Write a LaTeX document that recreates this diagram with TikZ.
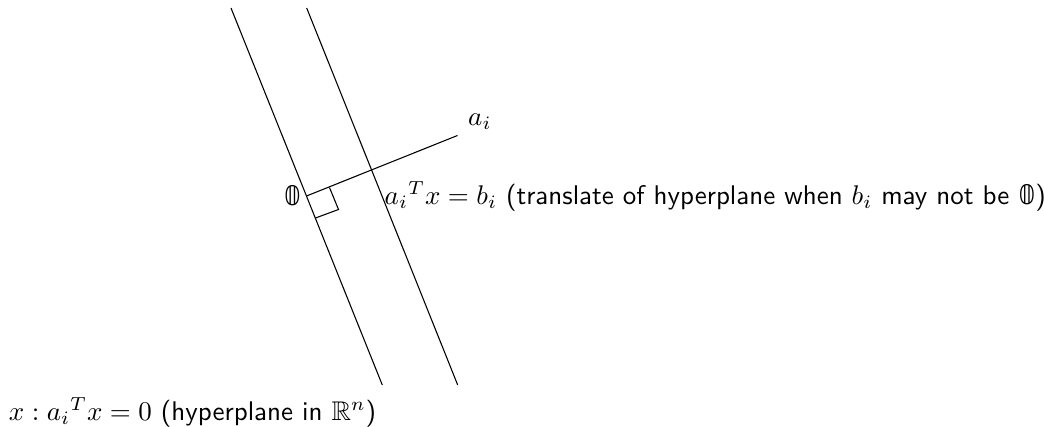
\documentclass[tikz,border=0pt]{standalone}
\usepackage{amssymb}
\usepackage{fontspec}
\newfontfamily\dsfont{DejaVu Sans}
\newcommand{\bbzero}{\text{\dsfont 𝟘}}
\usepackage{amsmath}
\usetikzlibrary{calc}
\tikzset{
  plane/.style={line width=0.4pt, black},
  lbl/.style={inner sep=0pt, anchor=base west, font=\fontsize{10}{12}\selectfont}
}
\begin{document}
\begin{tikzpicture}[x=0.37037pt, y=-0.37037pt]
\useasboundingbox (0,0) rectangle (1044,427);
% hyperplanes
\coordinate (L1top) at (231,8);
\coordinate (L1bot) at (382.3,385);
\coordinate (L2top) at (306.7,8);
\coordinate (L2bot) at (457.7,385);
\coordinate (O) at (306.5,196);
\coordinate (A) at (457.5,135.5);
\draw[plane] (L1top) -- (L1bot);
\draw[plane] (L2top) -- (L2bot);
% normal vector
\draw[plane] (O) -- (A);
% right angle mark
\draw[plane] ($(O)+(9,22)$) -- ++(23,-8.5) -- ++(-9,-22);
% labels
\node[lbl] (ai) at (467.7,125) {$a_i$};
\node[lbl] (zero) at (283.3,205.5) {$\bbzero$};
\node[lbl] (trans) at (384.2,204) {$ {a_i}^T x = b_i$ \textsf{(translate of hyperplane when $b_i$ may not be $\bbzero$)}};
\node[lbl] (hyp) at (8.3,420) {$x : {a_i}^T x = 0$ \textsf{(hyperplane in $\mathbb{R}^n$)}};
\end{tikzpicture}
\end{document}
